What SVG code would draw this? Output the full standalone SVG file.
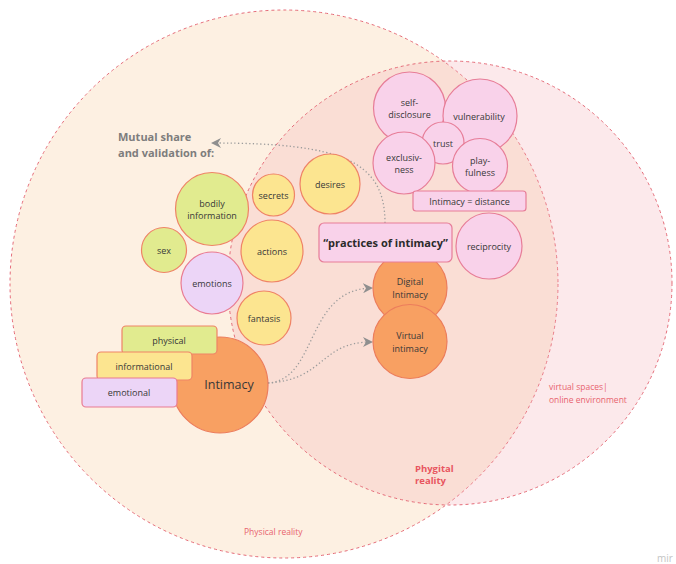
<svg xmlns="http://www.w3.org/2000/svg" width="676" height="564" viewBox="0 0 676 564">
<defs>
<style>
text{font-family:"Open Sans","Noto Sans","DejaVu Sans",sans-serif;font-size:9px;fill:#383838;text-anchor:middle;dominant-baseline:central}
.area{stroke:#e56b78;stroke-width:1;stroke-dasharray:3 3}
.g{fill:#e1eb8f;stroke:#ef8366;stroke-width:1.2}
.y{fill:#fce590;stroke:#ef8366;stroke-width:1.2}
.p{fill:#ecd5f7;stroke:#e97b92;stroke-width:1.2}
.o{fill:#f8a062;stroke:#ec7d5c;stroke-width:1.2}
.k{fill:#f9d2ea;stroke:#e77d98;stroke-width:1.2}
.conn{fill:none;stroke:#9c9c9c;stroke-width:1.3;stroke-dasharray:1.3 2.4}
.lbl{fill:#e8646f;text-anchor:start}
</style>
<marker id="ah" viewBox="0 0 10 10" refX="8" refY="5" markerWidth="10" markerHeight="10" markerUnits="userSpaceOnUse" orient="auto">
<path d="M0,0 L10,5 L0,10 L3,5 z" fill="#8f8f8f"/>
</marker>
</defs>
<rect width="676" height="564" fill="#ffffff"/>
<g id="areas">
<circle id="physical-reality" class="area" cx="284" cy="284" r="274" fill="#fdf0e2"/>
<circle id="virtual-spaces" class="area" cx="450" cy="283" r="222" fill="rgb(243,167,175)" fill-opacity="0.25"/>
<text class="lbl" x="244" y="531" style="font-size:8.5px">Physical reality</text>
<text class="lbl" x="549" y="386" style="font-size:8.5px">virtual spaces|</text>
<text class="lbl" x="549" y="399" style="font-size:8.5px">online environment</text>
<text class="lbl" x="415" y="468" style="font-size:9.5px;font-weight:bold;fill:#e8555f">Phygital</text>
<text class="lbl" x="415" y="480" style="font-size:9.5px;font-weight:bold;fill:#e8555f">reality</text>
<text x="657" y="558" style="text-anchor:start;font-size:10px;fill:#c4c4c4">mir</text>
</g>
<g id="title">
<text x="118" y="136" style="text-anchor:start;font-size:11px;font-weight:bold;fill:#7d7d7d">Mutual share</text>
<text x="118" y="152" style="text-anchor:start;font-size:11px;font-weight:bold;fill:#7d7d7d">and validation of:</text>
</g>
<g id="connectors">
<path class="conn" d="M385 223 C385 160 340 143 213 143" marker-end="url(#ah)"/>
<path class="conn" d="M268 383 C318 380 305 290 371 288" marker-end="url(#ah)"/>
<path class="conn" d="M268 383 C325 380 320 342 371 342" marker-end="url(#ah)"/>
</g>
<g id="n-bodily"><circle class="g" cx="212" cy="209" r="36.5"/><text x="212" y="203">bodily</text><text x="212" y="215">information</text></g>
<g id="n-secrets"><circle class="y" cx="273.5" cy="195" r="21"/><text x="273.5" y="195">secrets</text></g>
<g id="n-desires"><circle class="y" cx="330" cy="184" r="30"/><text x="330" y="184">desires</text></g>
<g id="n-sex"><circle class="g" cx="164" cy="250" r="22.5"/><text x="164" y="250">sex</text></g>
<g id="n-actions"><circle class="y" cx="272" cy="251" r="31"/><text x="272" y="251">actions</text></g>
<g id="n-emotions"><circle class="p" cx="212" cy="283" r="31"/><text x="212" y="283">emotions</text></g>
<g id="n-fantasis"><circle class="y" cx="264" cy="318" r="27"/><text x="264" y="318">fantasis</text></g>
<g id="n-intimacy"><circle class="o" cx="220" cy="385" r="48"/><text x="229" y="384" style="font-size:12.5px">Intimacy</text></g>
<g id="n-physical"><rect class="g" x="122" y="326" width="95" height="28" rx="4"/><text x="169" y="340">physical</text></g>
<g id="n-informational"><rect class="y" x="97" y="352" width="95" height="28" rx="4"/><text x="144" y="366">informational</text></g>
<g id="n-emotional"><rect class="p" x="82" y="378" width="95" height="29" rx="4"/><text x="129" y="392">emotional</text></g>
<g id="n-self-disclosure"><circle class="k" cx="409.5" cy="108" r="36"/><text x="409.5" y="102">self-</text><text x="409.5" y="114">disclosure</text></g>
<g id="n-vulnerability"><circle class="k" cx="480" cy="116" r="37"/><text x="479" y="116">vulnerability</text></g>
<g id="n-trust"><circle class="k" cx="443" cy="143" r="21"/><text x="443" y="143">trust</text></g>
<g id="n-exclusiveness"><circle class="k" cx="404" cy="163" r="31"/><text x="404" y="157">exclusiv-</text><text x="404" y="169">ness</text></g>
<g id="n-playfulness"><circle class="k" cx="480" cy="166" r="27.5"/><text x="480" y="160">play-</text><text x="480" y="172">fulness</text></g>
<g id="n-distance"><rect class="k" x="413" y="191" width="113" height="20" rx="3"/><text x="469.5" y="201">Intimacy = distance</text></g>
<g id="n-reciprocity"><circle class="k" cx="489" cy="246" r="33"/><text x="489" y="246">reciprocity</text></g>
<g id="n-digital"><circle class="o" cx="410" cy="288" r="37"/><text x="410" y="281">Digital</text><text x="410" y="294">Intimacy</text></g>
<g id="n-virtual"><circle class="o" cx="410" cy="341.5" r="37"/><text x="410" y="335">Virtual</text><text x="410" y="348">intimacy</text></g>
<g id="n-practices"><rect class="k" x="319" y="223" width="133" height="39" rx="5"/><text x="385.5" y="242" style="font-size:11px;font-weight:bold;fill:#2b2b2b">“practices of intimacy”</text></g>
</svg>
